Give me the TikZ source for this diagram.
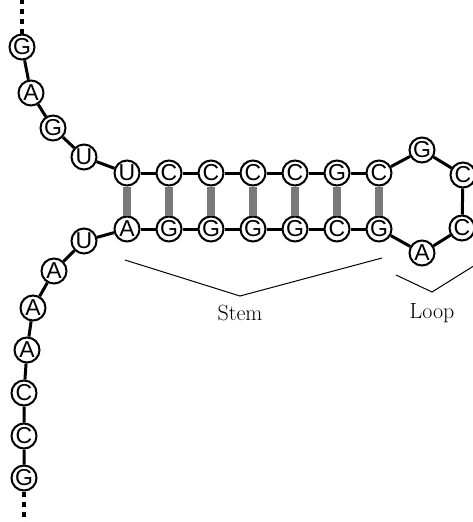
\documentclass[tikz,border=0pt]{standalone}
\usepackage{fontspec}
\newfontfamily\basefont{Liberation Sans}
\begin{document}
\begin{tikzpicture}[
        x=1pt, y=-1pt,
        base/.style={
            draw,
            circle,
            line width=2pt,
            fill=white,
            minimum size=25pt,
            inner sep=0pt,
            font=\basefont\fontsize{23}{23}\selectfont
        },
        bond/.style={
            line width=3pt
        },
        pair/.style={
            line width=8pt,
            gray!95!black
        },
        strandend/.style={
            line width=4pt,
            dash pattern=on 5pt off 5pt
        },
        brace/.style={
            line width=1pt
        },
        label/.style={
            font=\fontsize{22}{22}\selectfont
        }
    ]
        \useasboundingbox (0,0) rectangle (473,522);

        % --- 1. Brin 5' ---
        \node[base] (f1) at (22,47) {G};
        \node[base] (f2) at (31,93) {A};
        \node[base] (f3) at (53,128) {G};
        \node[base] (f4) at (84,157) {U};

        % --- 2. Tige (paires de bases) ---
        \foreach \tb/\bb [count=\i] in {U/A, C/G, C/G, C/G, C/G, G/C, C/G} {
            \node[base] (s\i) at ({85+42*\i},173) {\tb};
            \node[base] (b\i) at ({85+42*\i},229) {\bb};
            \draw[pair] (s\i) -- (b\i);
        }

        % --- 3. Boucle ---
        \node[base] (l1) at (422,150) {G};
        \node[base] (l2) at (463,175) {C};
        \node[base] (l3) at (462,228) {C};
        \node[base] (l4) at (422,253) {A};

        % --- 4. Brin 3' ---
        \node[base] (e1) at (84,241) {U};
        \node[base] (e2) at (54,271) {A};
        \node[base] (e3) at (33,308) {A};
        \node[base] (e4) at (27,350) {A};
        \node[base] (e5) at (24,393) {C};
        \node[base] (e6) at (24,436) {C};
        \node[base] (e7) at (24,478) {G};

        % --- Liaisons du squelette ---
        \draw[bond] (f1) -- (f2) -- (f3) -- (f4) -- (s1);
        \foreach \i [evaluate=\i as \j using int(\i+1)] in {1,...,6} {
            \draw[bond] (s\i) -- (s\j);
            \draw[bond] (b\i) -- (b\j);
        }
        \draw[bond] (s7) -- (l1) -- (l2) -- (l3) -- (l4) -- (b7);
        \draw[bond] (b1) -- (e1) -- (e2) -- (e3) -- (e4) -- (e5) -- (e6) -- (e7);

        % --- Extrémités en pointillés ---
        \coordinate (top) at (22,0);
        \coordinate (bottom) at (24,522);
        \draw[strandend] (f1) -- (top);
        \draw[strandend] (e7) -- (bottom);

        % --- Accolades et légendes ---
        \draw[brace] (125,260) -- (240,296) node[label, below=5pt] (stem) {Stem} -- (382,258);
        \draw[brace] (396,275) -- (432,292) node[label, below=8pt] (loop) {Loop} -- (480,262);
    \end{tikzpicture}
\end{document}
